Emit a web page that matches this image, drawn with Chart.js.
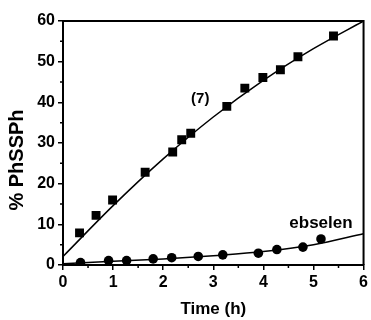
<!DOCTYPE html>
<html>
<head>
<meta charset="utf-8">
<style>
  html, body { margin: 0; padding: 0; background: #fff; }
  #wrap { width: 371px; height: 320px; }
</style>
<script src="https://cdn.jsdelivr.net/npm/chart.js@4/dist/chart.umd.min.js"></script>
</head>
<body>
<div id="wrap"><canvas id="kineticsChart" width="371" height="320"></canvas></div>
<script>
// compound (7) measurements
const timeSeven = [0.33, 0.66, 0.99, 1.64, 2.19, 2.37, 2.55, 3.27, 3.63, 3.99, 4.34, 4.69, 5.40];
const pctSeven  = [7.9, 12.2, 16.0, 22.8, 27.8, 30.8, 32.4, 39.0, 43.5, 46.1, 48.0, 51.2, 56.3];

// ebselen measurements
const timeEbselen = [0.35, 0.91, 1.27, 1.80, 2.17, 2.70, 3.19, 3.90, 4.27, 4.79, 5.15];
const pctEbselen  = [0.6, 1.1, 1.1, 1.5, 1.8, 2.1, 2.5, 2.9, 3.8, 4.4, 6.4];

// fitted curves
const fitTime       = [0, 1, 2, 3, 4, 5, 6];
const fitSeven      = [2.1, 14.6, 26.1, 36.4, 45.4, 53.2, 60];
const fitEbselen    = [0.3, 0.9, 1.5, 2.3, 3.3, 5.0, 7.7];

const xTicks = [0, 1, 2, 3, 4, 5, 6];
const yTicks = [0, 10, 20, 30, 40, 50, 60];

const FONT = 'Arial, "Liberation Sans", sans-serif';

function pairs(xs, ys) {
  return xs.map((x, i) => ({ x: x, y: ys[i] }));
}

// box on top/right, minor ticks, y title and curve labels
const decorations = {
  id: 'decorations',
  afterDraw(chart) {
    const ctx = chart.ctx;
    const area = chart.chartArea;
    const xs = chart.scales.x;
    const ys = chart.scales.y;
    ctx.save();
    ctx.strokeStyle = '#000';
    ctx.lineWidth = 2;
    ctx.beginPath();
    ctx.moveTo(area.left, area.top);
    ctx.lineTo(area.right, area.top);
    ctx.lineTo(area.right, area.bottom);
    ctx.stroke();

    ctx.lineWidth = 1.5;
    ctx.beginPath();
    for (let v = 0.5; v < 6; v += 1) {
      const px = xs.getPixelForValue(v);
      ctx.moveTo(px, area.bottom);
      ctx.lineTo(px, area.bottom + 3);
    }
    for (let v = 5; v < 60; v += 10) {
      const py = ys.getPixelForValue(v);
      ctx.moveTo(area.left, py);
      ctx.lineTo(area.left - 3, py);
    }
    ctx.stroke();

    ctx.fillStyle = '#000';
    ctx.font = 'bold 15px ' + FONT;
    ctx.textAlign = 'center';
    ctx.textBaseline = 'middle';
    ctx.fillText('(7)', xs.getPixelForValue(2.74), ys.getPixelForValue(40.9));

    ctx.font = 'bold 17px ' + FONT;
    ctx.textBaseline = 'alphabetic';
    ctx.fillText('ebselen', xs.getPixelForValue(5.15), ys.getPixelForValue(9.1));

    // y axis title, a bit below the middle as in the original
    ctx.translate(17.5, 160);
    ctx.rotate(-Math.PI / 2);
    ctx.font = 'bold 20px ' + FONT;
    ctx.textBaseline = 'middle';
    ctx.fillText('% PhSSPh', 0, 0);
    ctx.restore();
  }
};

const ctx = document.getElementById('kineticsChart').getContext('2d');

const kineticsChart = new Chart(ctx, {
  type: 'scatter',
  data: {
    datasets: [
      {
        label: 'fit (7)',
        data: pairs(fitTime, fitSeven),
        showLine: true,
        borderColor: '#000',
        borderWidth: 1.5,
        pointRadius: 0,
        cubicInterpolationMode: 'monotone'
      },
      {
        label: 'fit ebselen',
        data: pairs(fitTime, fitEbselen),
        showLine: true,
        borderColor: '#000',
        borderWidth: 1.5,
        pointRadius: 0,
        cubicInterpolationMode: 'monotone'
      },
      {
        label: '(7)',
        data: pairs(timeSeven, pctSeven),
        pointStyle: 'rect',
        pointRadius: 6.3,
        backgroundColor: '#000',
        borderColor: '#000',
        borderWidth: 0
      },
      {
        label: 'ebselen',
        data: pairs(timeEbselen, pctEbselen),
        pointStyle: 'circle',
        pointRadius: 4.8,
        backgroundColor: '#000',
        borderColor: '#000',
        borderWidth: 0
      }
    ]
  },
  options: {
    responsive: false,
    animation: false,
    layout: {
      padding: { top: 21, right: 6, left: 0, bottom: 0 }
    },
    scales: {
      x: {
        type: 'linear',
        min: 0,
        max: 6,
        afterBuildTicks: (scale) => { scale.ticks = xTicks.map(v => ({ value: v })); },
        afterFit: (scale) => { scale.height = 55; },
        border: { color: '#000', width: 2 },
        grid: { drawOnChartArea: false, drawTicks: true, tickLength: 5, color: '#000', lineWidth: 1.5 },
        ticks: {
          color: '#000',
          font: { family: FONT, size: 16, weight: 'bold' },
          padding: 3,
          maxRotation: 0
        },
        title: {
          display: true,
          text: 'Time (h)',
          color: '#000',
          font: { family: FONT, size: 17, weight: 'bold' },
          padding: { top: 9, bottom: 0 }
        }
      },
      y: {
        type: 'linear',
        min: 0,
        max: 60,
        afterBuildTicks: (scale) => { scale.ticks = yTicks.map(v => ({ value: v })); },
        afterFit: (scale) => { scale.width = 63; },
        border: { color: '#000', width: 2 },
        grid: { drawOnChartArea: false, drawTicks: true, tickLength: 5, color: '#000', lineWidth: 1.5 },
        ticks: {
          color: '#000',
          font: { family: FONT, size: 16, weight: 'bold' },
          padding: 3
        },
        title: { display: false }
      }
    },
    plugins: {
      legend: { display: false },
      tooltip: { enabled: false }
    }
  },
  plugins: [decorations]
});
</script>
</body>
</html>
